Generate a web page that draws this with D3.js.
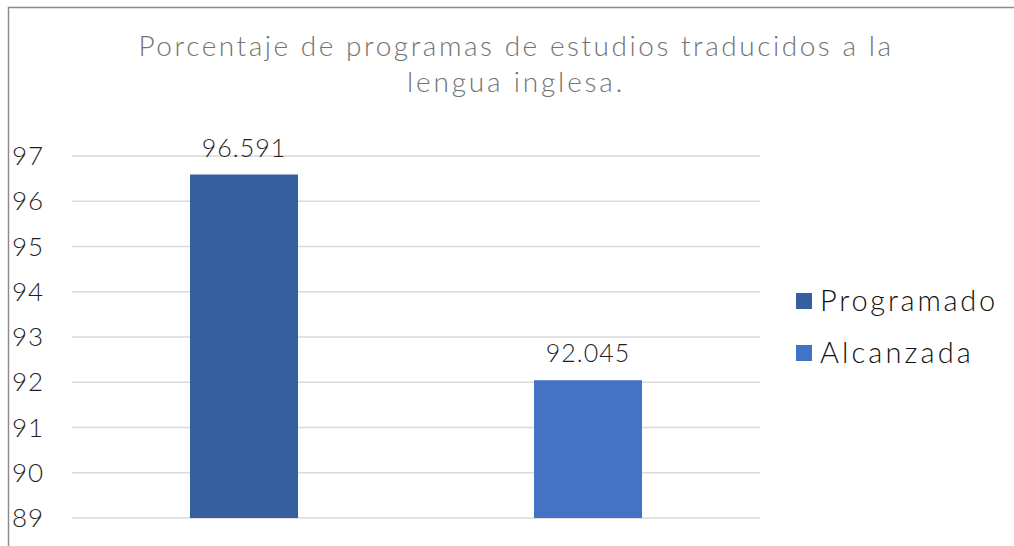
<!DOCTYPE html>
<html>
<head>
<meta charset="utf-8">
<script src="https://cdn.jsdelivr.net/npm/d3@7"></script>
<style>
  html, body { margin: 0; padding: 0; background: #fff; }
  svg text { font-family: "Lato", "Open Sans", sans-serif; }
</style>
</head>
<body>
<svg id="chart" width="1014" height="546"></svg>
<script>
// chart data
const categories = ["Programado", "Alcanzada"];
const values = [96.591, 92.045];
const valueLabels = ["96.591", "92.045"];
const yTicks = [89, 90, 91, 92, 93, 94, 95, 96, 97];
const colors = ["#365f9f", "#4472c4"];
const titleLines = ["Porcentaje de programas de estudios traducidos a la", "lengua inglesa."];

const svg = d3.select("#chart");

// outer frame (only top and left edges fall inside the picture)
svg.append("rect")
  .attr("x", 8.5).attr("y", 7.5)
  .attr("width", 1100).attr("height", 700)
  .attr("fill", "none")
  .attr("stroke", "#8c8c8c")
  .attr("stroke-width", 1.5);

const plot = { left: 72, right: 760, top: 156, bottom: 518 };

const x = d3.scaleBand()
  .domain(categories)
  .range([plot.left, plot.right])
  .paddingInner(0.686)
  .paddingOuter(0.343);

const y = d3.scaleLinear()
  .domain([89, 97])
  .range([plot.bottom, plot.top]);

// stretch text so it spans the same width as the wide font in the original
function fitWidth(sel, widthOf) {
  sel.each(function (d, i) {
    const t = d3.select(this);
    const w = widthOf(d, i);
    const len = this.getComputedTextLength();
    const chars = this.textContent.length;
    if (chars > 1) t.attr("letter-spacing", (w - len) / chars);
  });
}

// gridlines
svg.append("g")
  .selectAll("line")
  .data(yTicks)
  .join("line")
  .attr("x1", plot.left).attr("x2", plot.right)
  .attr("y1", d => y(d)).attr("y2", d => y(d))
  .attr("stroke", "#d9d9d9")
  .attr("stroke-width", 1.5);

// y tick labels
svg.append("g")
  .selectAll("text")
  .data(yTicks)
  .join("text")
  .attr("x", 12)
  .attr("y", d => y(d) + 9)
  .attr("font-size", 26)
  .attr("font-weight", 300)
  .attr("letter-spacing", 1)
  .attr("fill", "#1f1f1f")
  .text(d => d);

// bars
svg.append("g")
  .selectAll("rect")
  .data(values)
  .join("rect")
  .attr("x", (d, i) => x(categories[i]))
  .attr("y", d => y(d))
  .attr("width", x.bandwidth())
  .attr("height", d => y(89) - y(d))
  .attr("fill", (d, i) => colors[i]);

// value labels
svg.append("g")
  .selectAll("text")
  .data(values)
  .join("text")
  .attr("x", (d, i) => x(categories[i]) + x.bandwidth() / 2)
  .attr("y", d => y(d) - 18)
  .attr("text-anchor", "middle")
  .attr("font-size", 25)
  .attr("font-weight", 300)
  .attr("letter-spacing", 1)
  .attr("fill", "#1f1f1f")
  .text((d, i) => valueLabels[i]);

// title
const titleWidths = [755, 218];
svg.append("g")
  .selectAll("text")
  .data(titleLines)
  .join("text")
  .attr("x", 516)
  .attr("y", (d, i) => 56 + i * 36)
  .attr("text-anchor", "middle")
  .attr("font-size", 28)
  .attr("font-weight", 300)
  .attr("fill", "#737373")
  .text(d => d)
  .call(fitWidth, (d, i) => titleWidths[i]);

// legend
const legendWidths = [178, 154];
const legend = svg.append("g")
  .selectAll("g")
  .data(categories)
  .join("g")
  .attr("transform", (d, i) => `translate(796, ${293 + i * 52})`);

legend.append("rect")
  .attr("width", 16).attr("height", 16)
  .attr("fill", (d, i) => colors[i]);

legend.append("text")
  .attr("x", 24)
  .attr("y", 18)
  .attr("font-size", 29)
  .attr("font-weight", 300)
  .attr("fill", "#111")
  .text(d => d)
  .call(fitWidth, (d, i) => legendWidths[i]);
</script>
</body>
</html>
